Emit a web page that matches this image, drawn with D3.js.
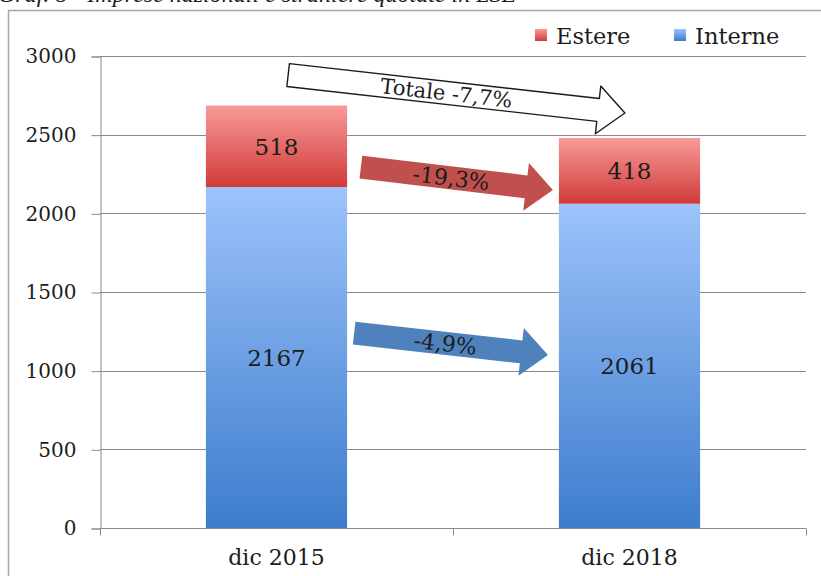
<!DOCTYPE html>
<html>
<head>
<meta charset="utf-8">
<script src="https://cdn.jsdelivr.net/npm/d3@7"></script>
<style>
  html, body { margin: 0; padding: 0; background: #fff; overflow: hidden; }
  svg { display: block; }
  text { font-family: "DejaVu Serif", "Liberation Serif", serif; fill: #1c1c1c; }
</style>
</head>
<body>
<svg id="graph-svg" width="821" height="576"></svg>
<script>
'use strict';

/* -- Chart data ------------------------------------------------------------ */
const categories = ['dic 2015', 'dic 2018'];
const interne = [2167, 2061];
const estere = [518, 418];
const seriesNames = ['Estere', 'Interne'];
const yTicks = [0, 500, 1000, 1500, 2000, 2500, 3000];
const arrowLabels = ['Totale -7,7%', '-19,3%', '-4,9%'];
const titleText = 'Graf. 8 - Imprese nazionali e straniere quotate in LSE';

/* -- Layout ---------------------------------------------------------------- */
const margin = { top: 56, right: 15, bottom: 48, left: 100 };
const svgW = 821, svgH = 576;
const plotW = svgW - margin.left - margin.right;
const plotH = svgH - margin.top - margin.bottom;

const svg = d3.select('#graph-svg');

/* -- Gradients ------------------------------------------------------------- */
const defs = svg.append('defs');
const gradient = function(id, top, bottom) {
    const g = defs.append('linearGradient')
        .attr('id', id)
        .attr('x1', 0).attr('y1', 0).attr('x2', 0).attr('y2', 1);
    g.append('stop').attr('offset', '0%').attr('stop-color', top);
    g.append('stop').attr('offset', '100%').attr('stop-color', bottom);
};
gradient('grad-estere', '#f89a99', '#d03b39');
gradient('grad-interne', '#9cc3fb', '#3d7ccc');

/* -- Title (clipped at top, as in the source) and frame -------------------- */
svg.append('text')
    .attr('x', -2)
    .attr('y', 2)
    .style('font-family', '"Liberation Serif", serif')
    .style('font-style', 'italic')
    .style('font-size', '24px')
    .text(titleText);

svg.append('rect')
    .attr('x', 8.5).attr('y', 10.5)
    .attr('width', 840).attr('height', 600)
    .attr('fill', 'none')
    .attr('stroke', '#a6a6a6')
    .attr('stroke-width', 1.5);

/* -- Scales ---------------------------------------------------------------- */
const xScale = d3.scaleBand()
    .domain(categories)
    .range([margin.left, margin.left + plotW])
    .padding(0);

const yScale = d3.scaleLinear()
    .domain([0, 3000])
    .range([margin.top + plotH, margin.top]);

const barWidth = xScale.bandwidth() * 0.4;

/* -- Gridlines ------------------------------------------------------------- */
svg.append('g')
    .selectAll('line')
    .data(yTicks.filter(function(d) { return d > 0; }))
    .enter()
    .append('line')
    .attr('x1', margin.left)
    .attr('x2', margin.left + plotW)
    .attr('y1', function(d) { return Math.round(yScale(d)) + 0.5; })
    .attr('y2', function(d) { return Math.round(yScale(d)) + 0.5; })
    .attr('stroke', '#8a8a8a')
    .attr('stroke-width', 1);

/* -- Y axis ---------------------------------------------------------------- */
const yAxis = d3.axisLeft(yScale)
    .tickValues(yTicks)
    .tickFormat(d3.format('d'))
    .tickSize(9)
    .tickPadding(15);
const yAxisElement = svg.append('g')
    .attr('class', 'y axis')
    .attr('transform', 'translate(' + (margin.left + 0.5) + ',0.5)')
    .call(yAxis);
yAxisElement.selectAll('path, line').attr('stroke', '#8a8a8a');
yAxisElement.selectAll('text')
    .style('font-family', '"DejaVu Serif", serif')
    .style('font-size', '20px')
    .attr('fill', '#222');

/* -- X axis ---------------------------------------------------------------- */
const xAxisElement = svg.append('g')
    .attr('class', 'x axis')
    .attr('transform', 'translate(0,' + (Math.round(yScale(0)) + 0.5) + ')');
xAxisElement.append('line')
    .attr('x1', margin.left).attr('x2', margin.left + plotW)
    .attr('stroke', '#8a8a8a');
xAxisElement.selectAll('line.tick')
    .data([margin.left, xScale(categories[1]), margin.left + plotW])
    .enter()
    .append('line')
    .attr('class', 'tick')
    .attr('x1', function(d) { return Math.round(d) + 0.5; })
    .attr('x2', function(d) { return Math.round(d) + 0.5; })
    .attr('y1', 0).attr('y2', 7)
    .attr('stroke', '#8a8a8a');
xAxisElement.selectAll('text')
    .data(categories)
    .enter()
    .append('text')
    .attr('x', function(d) { return xScale(d) + xScale.bandwidth() / 2; })
    .attr('y', 36)
    .attr('text-anchor', 'middle')
    .style('font-size', '22px')
    .text(function(d) { return d; });

/* -- Stacked bars ---------------------------------------------------------- */
const stackData = categories.map(function(c, i) {
    return { key: c, interne: interne[i], estere: estere[i] };
});
const stacked = d3.stack().keys(['interne', 'estere'])(stackData);

const plotCanvas = svg.append('g').attr('id', 'plotCanvas');
stacked.forEach(function(layer) {
    const g = plotCanvas.append('g');
    g.selectAll('rect')
        .data(layer)
        .enter()
        .append('rect')
        .attr('x', function(d) { return xScale(d.data.key) + xScale.bandwidth() / 2 - barWidth / 2; })
        .attr('y', function(d) { return yScale(d[1]); })
        .attr('width', barWidth)
        .attr('height', function(d) { return yScale(d[0]) - yScale(d[1]); })
        .attr('fill', 'url(#grad-' + layer.key + ')');
    g.selectAll('text')
        .data(layer)
        .enter()
        .append('text')
        .attr('x', function(d) { return xScale(d.data.key) + xScale.bandwidth() / 2; })
        .attr('y', function(d) { return (yScale(d[0]) + yScale(d[1])) / 2; })
        .attr('dy', '0.36em')
        .attr('text-anchor', 'middle')
        .style('font-size', '23px')
        .text(function(d) { return d.data[layer.key]; });
});

/* -- Legend ---------------------------------------------------------------- */
const legend = svg.append('g').attr('class', 'legend');
const legendX = [535, 674];
seriesNames.forEach(function(name, i) {
    legend.append('rect')
        .attr('x', legendX[i]).attr('y', 29)
        .attr('width', 12).attr('height', 12)
        .attr('fill', 'url(#grad-' + name.toLowerCase() + ')');
    legend.append('text')
        .attr('x', legendX[i] + 21).attr('y', 44)
        .style('font-size', '22.5px')
        .text(name);
});

/* -- Change arrows (tail/tip anchored on band fraction and y value) -------- */
const arrows = [
    { label: arrowLabels[0], fill: '#ffffff', stroke: '#1a1a1a',
      from: [categories[0], 0.533, 2879], to: [categories[1], 0.487, 2638] },
    { label: arrowLabels[1], fill: '#c0504d', stroke: 'none',
      from: [categories[0], 0.739, 2294], to: [categories[1], 0.283, 2148] },
    { label: arrowLabels[2], fill: '#4f81bd', stroke: 'none',
      from: [categories[0], 0.72, 1239], to: [categories[1], 0.269, 1100] }
];
const arrowPoint = function(p) {
    return [xScale(p[0]) + xScale.bandwidth() * p[1], yScale(p[2])];
};
const shaft = 11.5, head = 24, headLen = 27;

arrows.forEach(function(a) {
    const p0 = arrowPoint(a.from);
    const p1 = arrowPoint(a.to);
    const L = Math.hypot(p1[0] - p0[0], p1[1] - p0[1]);
    const angle = Math.atan2(p1[1] - p0[1], p1[0] - p0[0]) * 180 / Math.PI;
    const pts = [[0, -shaft], [L - headLen, -shaft], [L - headLen, -head], [L, 0],
                 [L - headLen, head], [L - headLen, shaft], [0, shaft]];
    const g = svg.append('g')
        .attr('transform', 'translate(' + p0[0] + ',' + p0[1] + ') rotate(' + angle + ')');
    g.append('path')
        .attr('d', d3.line()(pts) + 'Z')
        .attr('fill', a.fill)
        .attr('stroke', a.stroke)
        .attr('stroke-width', 1.4)
        .attr('stroke-linejoin', 'round');
    g.append('text')
        .attr('x', L * 0.47)
        .attr('y', 0)
        .attr('dy', '0.36em')
        .attr('text-anchor', 'middle')
        .style('font-size', a.fill === '#ffffff' ? '21px' : '22px')
        .text(a.label);
});
</script>
</body>
</html>
